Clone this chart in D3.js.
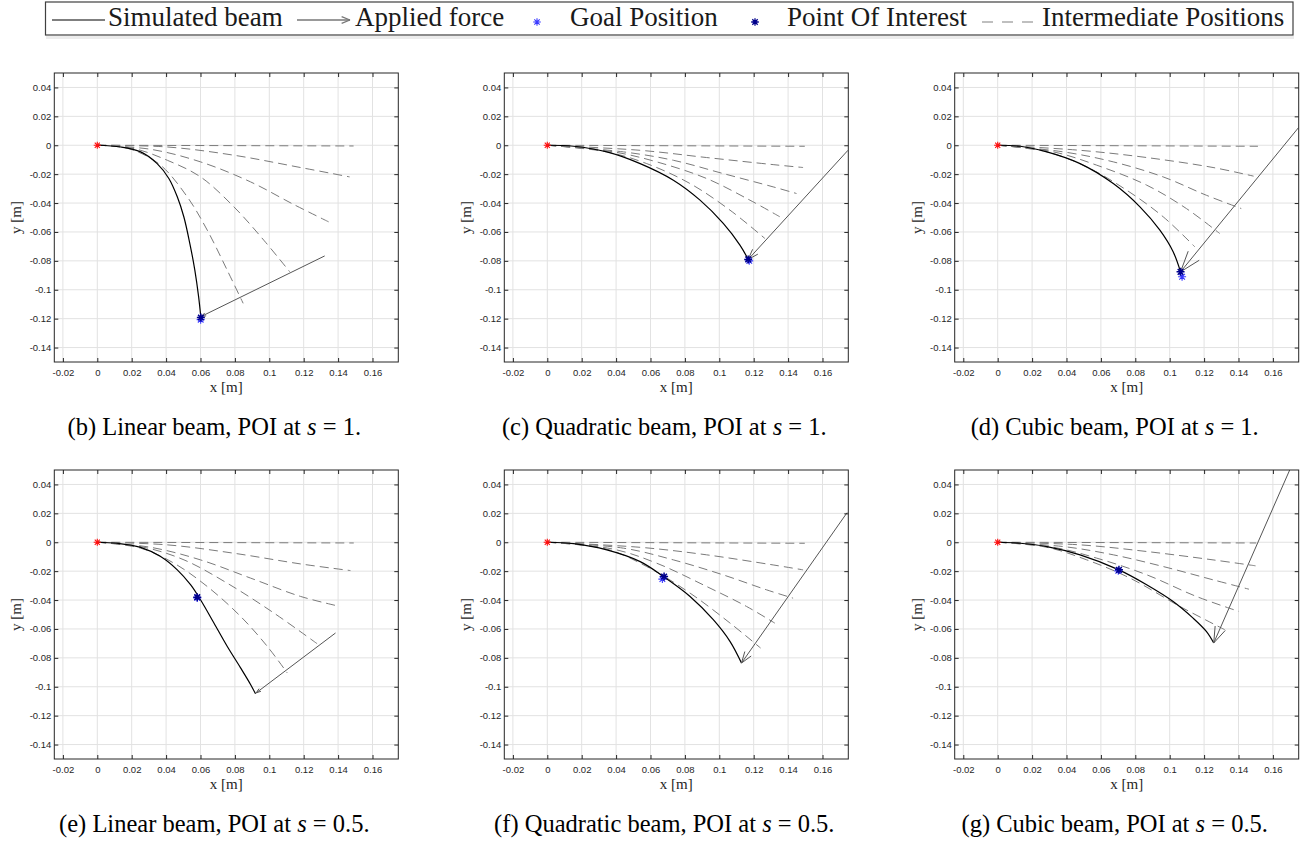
<!DOCTYPE html>
<html><head><meta charset="utf-8">
<script src="https://cdn.jsdelivr.net/npm/d3@7"></script>
<style>body{margin:0;background:#fff} svg{display:block}</style>
</head><body>
<svg id="chart" width="1304" height="841"></svg>
<script>
// ---------- axis data ----------
const xDomain = [-0.025, 0.175];
const yDomain = [-0.15, 0.05];
const xTickValues = [-0.02,0,0.02,0.04,0.06,0.08,0.1,0.12,0.14,0.16];
const xTickLabels = ["-0.02","0","0.02","0.04","0.06","0.08","0.1","0.12","0.14","0.16"];
const yTickValues = [0.04,0.02,0,-0.02,-0.04,-0.06,-0.08,-0.1,-0.12,-0.14];
const yTickLabels = ["0.04","0.02","0","-0.02","-0.04","-0.06","-0.08","-0.1","-0.12","-0.14"];
const legendLabels = ["Simulated beam","Applied force","Goal Position","Point Of Interest","Intermediate Positions"];
const captionPrefix = ["(b) Linear beam, POI at ","(c) Quadratic beam, POI at ","(d) Cubic beam, POI at ",
                       "(e) Linear beam, POI at ","(f) Quadratic beam, POI at ","(g) Cubic beam, POI at "];
const captionValue = ["1","1","1","0.5","0.5","0.5"];
const origin = [0, 0];

// ---------- (b) linear, s = 1 ----------
const beamB = [[0,0],[0.0136,-0.0012],[0.0252,-0.0046],[0.0348,-0.0127],[0.0416,-0.0230],[0.0465,-0.0357],[0.0503,-0.0495],[0.0538,-0.0680],[0.0567,-0.0864],[0.0589,-0.1048],[0.0602,-0.1192]];
const interB = [
  [[0,0],[0.149,-0.0005]],
  [[0,0],[0.0407,-0.0012],[0.0794,-0.0069],[0.1181,-0.0154],[0.1467,-0.0219]],
  [[0,0],[0.031,-0.0028],[0.06,-0.0115],[0.089,-0.0253],[0.1142,-0.041],[0.1345,-0.053]],
  [[0,0],[0.0213,-0.0023],[0.0407,-0.0104],[0.06,-0.0219],[0.0794,-0.0426],[0.0968,-0.0657],[0.1119,-0.0876]],
  [[0,0],[0.01,-0.0007],[0.0213,-0.0035],[0.0368,-0.0138],[0.0523,-0.0357],[0.0639,-0.0587],[0.0755,-0.0864],[0.0848,-0.1094]]
];
const forceB = [[0.1322,-0.0766],[0.0604,-0.1185]];
const goalB = [0.0601,-0.1207];
const poiB = [0.0602,-0.1192];

// ---------- (c) quadratic, s = 1 ----------
const beamC = [[0,0],[0.0153,-0.0007],[0.0346,-0.0046],[0.054,-0.0127],[0.0733,-0.0242],[0.0888,-0.038],[0.1023,-0.0541],[0.112,-0.0691],[0.1168,-0.079]];
const interC = [
  [[0,0],[0.1497,-0.0007]],
  [[0,0],[0.054,-0.0035],[0.0926,-0.0085],[0.1313,-0.0134],[0.1487,-0.0154]],
  [[0,0],[0.0443,-0.0046],[0.0733,-0.0104],[0.1023,-0.0196],[0.1313,-0.0288],[0.1449,-0.0334]],
  [[0,0],[0.0386,-0.0046],[0.0636,-0.0115],[0.0926,-0.023],[0.1178,-0.038],[0.1352,-0.0495]],
  [[0,0],[0.0346,-0.0046],[0.0578,-0.0127],[0.083,-0.0265],[0.1062,-0.0449],[0.1265,-0.0645]]
];
const forceC = [[0.1748,-0.0035],[0.1168,-0.079]];
const goalC = [0.1174,-0.0800];
const poiC = [0.1168,-0.0790];

// ---------- (d) cubic, s = 1 ----------
const beamD = [[0,0],[0.0131,-0.0007],[0.0286,-0.0046],[0.0479,-0.0127],[0.0672,-0.0265],[0.0827,-0.0426],[0.0943,-0.0588],[0.102,-0.0737],[0.1063,-0.0876]];
const interD = [
  [[0,0],[0.1513,-0.0007]],
  [[0,0],[0.0479,-0.0035],[0.0866,-0.0085],[0.1252,-0.0154],[0.1488,-0.0214]],
  [[0,0],[0.0383,-0.0046],[0.0672,-0.0115],[0.0962,-0.0219],[0.1213,-0.0346],[0.1416,-0.0438]],
  [[0,0],[0.0325,-0.0046],[0.0576,-0.0138],[0.0866,-0.0276],[0.1097,-0.0438],[0.1291,-0.0611]],
  [[0,0],[0.0286,-0.0046],[0.0518,-0.015],[0.075,-0.0311],[0.0962,-0.0495],[0.1146,-0.0703]]
];
const forceD = [[0.1749,0.0122],[0.1063,-0.0876]];
const goalD = [0.1072,-0.0910];
const poiD = [0.1063,-0.0876];

// ---------- (e) linear, s = 0.5 ----------
const beamE = [[0,0],[0.0116,-0.0007],[0.0252,-0.0035],[0.0368,-0.0099],[0.0465,-0.0191],[0.0542,-0.0294],[0.06,-0.0398],[0.0678,-0.0559],[0.0755,-0.072],[0.0833,-0.0869],[0.0891,-0.0984],[0.092,-0.1049]];
const interE = [
  [[0,0],[0.1491,-0.0005]],
  [[0,0],[0.0407,-0.0018],[0.0794,-0.0076],[0.1182,-0.015],[0.1472,-0.0196]],
  [[0,0],[0.031,-0.0035],[0.06,-0.0122],[0.0891,-0.0248],[0.1182,-0.0375],[0.141,-0.0444]],
  [[0,0],[0.0271,-0.0035],[0.0504,-0.0122],[0.0755,-0.0283],[0.1027,-0.049],[0.1278,-0.0702]],
  [[0,0],[0.0252,-0.0041],[0.0446,-0.0145],[0.0639,-0.0306],[0.0833,-0.0513],[0.0988,-0.072],[0.1104,-0.0904]]
];
const forceE = [[0.1385,-0.0628],[0.0924,-0.1042]];
const goalE = [0.0581,-0.0385];
const poiE = [0.0581,-0.0380];

// ---------- (f) quadratic, s = 0.5 ----------
const beamF = [[0,0],[0.0153,-0.0010],[0.0346,-0.0053],[0.054,-0.0134],[0.0675,-0.0237],[0.083,-0.0375],[0.0965,-0.0536],[0.1062,-0.0686],[0.1129,-0.0836]];
const interF = [
  [[0,0],[0.1497,-0.0007]],
  [[0,0],[0.054,-0.0035],[0.0926,-0.0087],[0.1313,-0.0157],[0.1487,-0.0191]],
  [[0,0],[0.0443,-0.0041],[0.0733,-0.0122],[0.1023,-0.0226],[0.1274,-0.0329],[0.1429,-0.0387]],
  [[0,0],[0.0385,-0.0048],[0.0636,-0.0145],[0.0926,-0.0306],[0.1158,-0.0444],[0.1323,-0.056]],
  [[0,0],[0.0346,-0.0048],[0.0578,-0.0168],[0.083,-0.0352],[0.1062,-0.0559],[0.124,-0.0732]]
];
const forceF = [[0.1743,0.0205],[0.1129,-0.0836]];
const goalF = [0.0669,-0.0255];
const poiF = [0.0679,-0.0237];

// ---------- (g) cubic, s = 0.5 ----------
const beamG = [[0,0],[0.0131,-0.0007],[0.0286,-0.003],[0.0479,-0.0087],[0.0705,-0.0191],[0.0866,-0.0294],[0.102,-0.041],[0.1136,-0.0525],[0.1213,-0.0617],[0.1256,-0.0697]];
const interG = [
  [[0,0],[0.1503,-0.0005]],
  [[0,0],[0.0479,-0.0018],[0.0866,-0.0064],[0.1252,-0.0122],[0.1499,-0.0163]],
  [[0,0],[0.0383,-0.003],[0.0672,-0.0087],[0.0962,-0.0168],[0.1252,-0.026],[0.1461,-0.0325]],
  [[0,0],[0.0325,-0.0035],[0.0576,-0.011],[0.0866,-0.0225],[0.1155,-0.0375],[0.1403,-0.0479]],
  [[0,0],[0.0286,-0.0035],[0.0518,-0.0122],[0.0769,-0.0248],[0.1059,-0.0444],[0.132,-0.0605]]
];
const forceG = [[0.1705,0.052],[0.1256,-0.0697]];
const goalG = [0.0701,-0.0198];
const poiG = [0.0705,-0.0191];

// ---------- layout / style ----------
const W = 1304, H = 841;
const plotW = 344, plotH = 289;
const colX = [54.3, 504.3, 954.7];
const rowY = [73, 470];
const headLen = [5, 11, 22, 5, 12, 17];
const C = {axis:"#262626", grid:"#e2e2e2", dash:"#7a7a7a", force:"#555555",
           goal:"#3a3aff", poi:"#00008c", red:"#ff1010"};
const serif = "'Liberation Serif','Times New Roman',serif";
const sans = "'Liberation Sans',Arial,Helvetica,sans-serif";

const panels = [
  {beam:beamB, inter:interB, force:forceB, goal:goalB, poi:poiB},
  {beam:beamC, inter:interC, force:forceC, goal:goalC, poi:poiC},
  {beam:beamD, inter:interD, force:forceD, goal:goalD, poi:poiD},
  {beam:beamE, inter:interE, force:forceE, goal:goalE, poi:poiE},
  {beam:beamF, inter:interF, force:forceF, goal:goalF, poi:poiF},
  {beam:beamG, inter:interG, force:forceG, goal:goalG, poi:poiG}
];

const svg = d3.select("#chart");
svg.append("rect").attr("width", W).attr("height", H).attr("fill", "#fff");

function asterisk(g, cx, cy, r, color, sw) {
  const d = r * Math.SQRT1_2;
  const p = `M${cx-r},${cy}L${cx+r},${cy}M${cx},${cy-r}L${cx},${cy+r}` +
            `M${cx-d},${cy-d}L${cx+d},${cy+d}M${cx-d},${cy+d}L${cx+d},${cy-d}`;
  g.append("path").attr("d", p).attr("stroke", color).attr("stroke-width", sw).attr("fill", "none");
}
function arrowHead(g, tx, ty, sx, sy, len, ang, color, sw) {
  const dx = sx - tx, dy = sy - ty, n = Math.hypot(dx, dy);
  const ux = dx / n, uy = dy / n;
  [ang, -ang].forEach(a => {
    const c = Math.cos(a), s = Math.sin(a);
    const wx = ux * c - uy * s, wy = ux * s + uy * c;
    g.append("line").attr("x1", tx).attr("y1", ty)
      .attr("x2", tx + wx * len).attr("y2", ty + wy * len)
      .attr("stroke", color).attr("stroke-width", sw);
  });
}

panels.forEach((P, i) => {
  const col = i % 3, row = Math.floor(i / 3);
  const g = svg.append("g").attr("transform", `translate(${colX[col]},${rowY[row]})`);
  const x = d3.scaleLinear().domain(xDomain).range([0, plotW]);
  const y = d3.scaleLinear().domain(yDomain).range([plotH, 0]);

  const clipId = "clip" + i;
  g.append("clipPath").attr("id", clipId).append("rect")
    .attr("width", plotW).attr("height", plotH);

  // grid
  g.append("g").selectAll("line").data(xTickValues).join("line")
    .attr("x1", d => x(d)).attr("x2", d => x(d)).attr("y1", 0).attr("y2", plotH)
    .attr("stroke", C.grid).attr("stroke-width", 1);
  g.append("g").selectAll("line").data(yTickValues).join("line")
    .attr("y1", d => y(d)).attr("y2", d => y(d)).attr("x1", 0).attr("x2", plotW)
    .attr("stroke", C.grid).attr("stroke-width", 1);

  const line = d3.line().x(d => x(d[0])).y(d => y(d[1])).curve(d3.curveCatmullRom.alpha(0.5));
  const body = g.append("g").attr("clip-path", `url(#${clipId})`);

  body.selectAll("path.inter").data(P.inter).join("path").attr("class", "inter")
    .attr("d", line).attr("fill", "none").attr("stroke", C.dash)
    .attr("stroke-width", 1).attr("stroke-dasharray", "9,5");

  body.append("path").datum(P.beam).attr("d", line).attr("fill", "none")
    .attr("stroke", "#000").attr("stroke-width", 1.2);

  const [fs, ft] = P.force;
  body.append("line").attr("x1", x(fs[0])).attr("y1", y(fs[1]))
    .attr("x2", x(ft[0])).attr("y2", y(ft[1])).attr("stroke", C.force).attr("stroke-width", 1);
  arrowHead(body, x(ft[0]), y(ft[1]), x(fs[0]), y(fs[1]), headLen[i], 0.33, C.force, 1);

  asterisk(body, x(origin[0]), y(origin[1]), 3.6, C.red, 1.1);
  asterisk(body, x(P.goal[0]), y(P.goal[1]), 4, C.goal, 1.1);
  asterisk(body, x(P.poi[0]), y(P.poi[1]), 4, C.poi, 1.5);

  // axes
  const styleAxis = sel => {
    sel.select(".domain").remove();
    sel.selectAll(".tick line").attr("stroke", C.axis).attr("stroke-width", 1);
    sel.selectAll(".tick text").attr("fill", C.axis).style("font-family", sans).style("font-size", "9.5px");
  };
  g.append("g").attr("transform", `translate(0,${plotH})`)
    .call(d3.axisBottom(x).tickValues(xTickValues).tickFormat((d, k) => xTickLabels[k])
      .tickSizeInner(-4).tickSizeOuter(0).tickPadding(7)).call(styleAxis);
  g.append("g")
    .call(d3.axisLeft(y).tickValues(yTickValues).tickFormat((d, k) => yTickLabels[k])
      .tickSizeInner(-4).tickSizeOuter(0).tickPadding(3)).call(styleAxis);
  g.append("g")
    .call(d3.axisTop(x).tickValues(xTickValues).tickFormat("").tickSizeInner(-4).tickSizeOuter(0)).call(styleAxis);
  g.append("g").attr("transform", `translate(${plotW},0)`)
    .call(d3.axisRight(y).tickValues(yTickValues).tickFormat("").tickSizeInner(-4).tickSizeOuter(0)).call(styleAxis);

  g.append("rect").attr("width", plotW).attr("height", plotH)
    .attr("fill", "none").attr("stroke", C.axis).attr("stroke-width", 1);

  g.append("text").attr("x", plotW / 2).attr("y", plotH + 30).attr("text-anchor", "middle")
    .style("font-family", serif).style("font-size", "15px").attr("fill", C.axis).text("x [m]");
  g.append("text").attr("transform", `translate(-33,${plotH / 2}) rotate(-90)`).attr("text-anchor", "middle")
    .style("font-family", serif).style("font-size", "15px").attr("fill", C.axis).text("y [m]");

  const cap = g.append("text").attr("x", plotW / 2 - 12).attr("y", plotH + 73).attr("text-anchor", "middle")
    .style("font-family", serif).style("font-size", "24.5px").attr("fill", "#000");
  cap.append("tspan").text(captionPrefix[i]);
  cap.append("tspan").style("font-style", "italic").text("s");
  cap.append("tspan").text(" = " + captionValue[i] + ".");
});

// ---------- legend ----------
const L = svg.append("g");
L.append("rect").attr("x", 46).attr("y", 36).attr("width", 1248).attr("height", 3).attr("fill", "#ececec");
L.append("rect").attr("x", 45.5).attr("y", 2).attr("width", 1247.5).attr("height", 33)
  .attr("fill", "#fff").attr("stroke", "#404040").attr("stroke-width", 1.2);
const ly = 20, lty = 26;
const lt = (xx, s) => L.append("text").attr("x", xx).attr("y", lty).style("font-family", serif)
  .style("font-size", "27px").attr("fill", "#1a1a1a").text(s);
L.append("line").attr("x1", 52).attr("x2", 105).attr("y1", ly).attr("y2", ly).attr("stroke", "#000").attr("stroke-width", 1.2);
lt(108, legendLabels[0]);
L.append("line").attr("x1", 297).attr("x2", 350).attr("y1", ly).attr("y2", ly).attr("stroke", "#777").attr("stroke-width", 1.3);
arrowHead(L, 350, ly, 297, ly, 9, 0.38, "#777", 1.3);
lt(355, legendLabels[1]);
asterisk(L, 537, 22, 3.8, C.goal, 1.1);
lt(570, legendLabels[2]);
asterisk(L, 755, 22, 3.8, C.poi, 1.3);
lt(787, legendLabels[3]);
L.append("line").attr("x1", 982).attr("x2", 1034).attr("y1", 22).attr("y2", 22)
  .attr("stroke", "#808080").attr("stroke-width", 1.2).attr("stroke-dasharray", "11,9");
lt(1042, legendLabels[4]);
</script>
</body></html>
